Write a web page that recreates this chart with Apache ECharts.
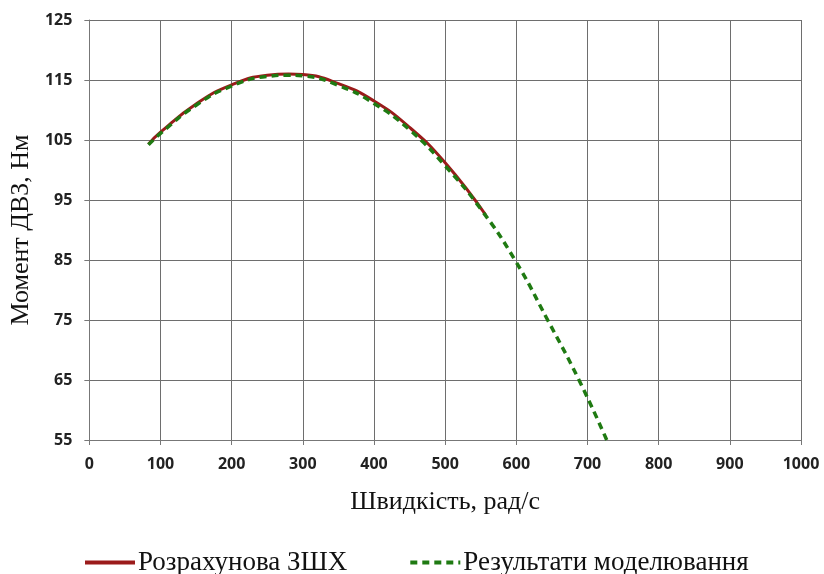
<!DOCTYPE html>
<html>
<head>
<meta charset="utf-8">
<script src="https://cdn.jsdelivr.net/npm/echarts@6/dist/echarts.min.js"></script>
<style>
  html, body { margin: 0; padding: 0; background: #fff; }
  #chart { width: 824px; height: 574px; }
</style>
</head>
<body>
<div id="chart"></div>
<script>
// Calculated external speed characteristic (speed rad/s, torque N·m)
const calcSpeed  = [83, 100, 150, 200, 250, 280, 300, 350, 400, 450, 500, 557];
const calcTorque = [104.3, 106.3, 111.0, 114.2, 115.8, 116.0, 115.9, 114.4, 111.5, 107.1, 101.2, 92.5];

// Simulation results
const simSpeed  = [83, 100, 150, 200, 250, 280, 300, 350, 400, 450, 500, 550, 598, 644, 688, 727];
const simTorque = [104.2, 106.1, 110.8, 114.0, 115.6, 115.8, 115.7, 114.1, 111.1, 106.7, 100.7, 93.5, 85.0, 75.0, 65.0, 55.0];

const seriesNames = ['Розрахунова ЗШХ', 'Результати моделювання'];
const xTitle = 'Швидкість, рад/с';
const yTitle = 'Момент ДВЗ, Нм';

const pairs = (xs, ys) => xs.map((x, i) => [x, ys[i]]);

const chart = echarts.init(document.getElementById('chart'));
const tickFont = { fontFamily: 'Open Sans', fontSize: 16, fontWeight: 'bold', color: '#222' };

chart.setOption({
  animation: false,
  grid: { left: 87, right: 23, top: 20, bottom: 134 },
  xAxis: {
    type: 'value', min: 0, max: 1000, interval: 100,
    name: xTitle, nameLocation: 'middle', nameGap: 49,
    nameTextStyle: { fontFamily: 'Liberation Serif', fontSize: 26, color: '#111' },
    axisLine: { show: true, lineStyle: { color: '#777', width: 1 } },
    axisTick: { show: true, length: 5, lineStyle: { color: '#777' } },
    axisLabel: Object.assign({ margin: 16, formatter: v => String(v) }, tickFont),
    splitLine: { show: true, lineStyle: { color: '#6e6e6e', width: 1 } }
  },
  yAxis: {
    type: 'value', min: 55, max: 125, interval: 10,
    name: yTitle, nameLocation: 'middle', nameGap: 52, nameRotate: 90,
    nameTextStyle: { fontFamily: 'Liberation Serif', fontSize: 26, color: '#111' },
    axisLine: { show: true, lineStyle: { color: '#777', width: 1 } },
    axisTick: { show: true, length: 5, lineStyle: { color: '#777' } },
    axisLabel: Object.assign({ margin: 17 }, tickFont),
    splitLine: { show: true, lineStyle: { color: '#6e6e6e', width: 1 } }
  },
  legend: {
    left: 78, top: 544,
    itemWidth: 50, itemHeight: 12, itemGap: 61,
    itemStyle: { opacity: 0 },
    lineStyle: { width: 4 },
    textStyle: { fontFamily: 'Liberation Serif', fontSize: 27, color: '#111', padding: [0, 0, 0, -2] },
    data: seriesNames
  },
  series: [
    {
      name: seriesNames[0], type: 'line', smooth: true, symbol: 'none',
      data: pairs(calcSpeed, calcTorque),
      lineStyle: { color: '#9b1b1b', width: 3 },
      itemStyle: { color: '#9b1b1b' },
      z: 2
    },
    {
      name: seriesNames[1], type: 'line', smooth: true, symbol: 'none',
      data: pairs(simSpeed, simTorque),
      lineStyle: { color: '#1f7a12', width: 3.5, type: [7, 5] },
      itemStyle: { color: '#1f7a12' },
      z: 3
    }
  ]
});
</script>
</body>
</html>
